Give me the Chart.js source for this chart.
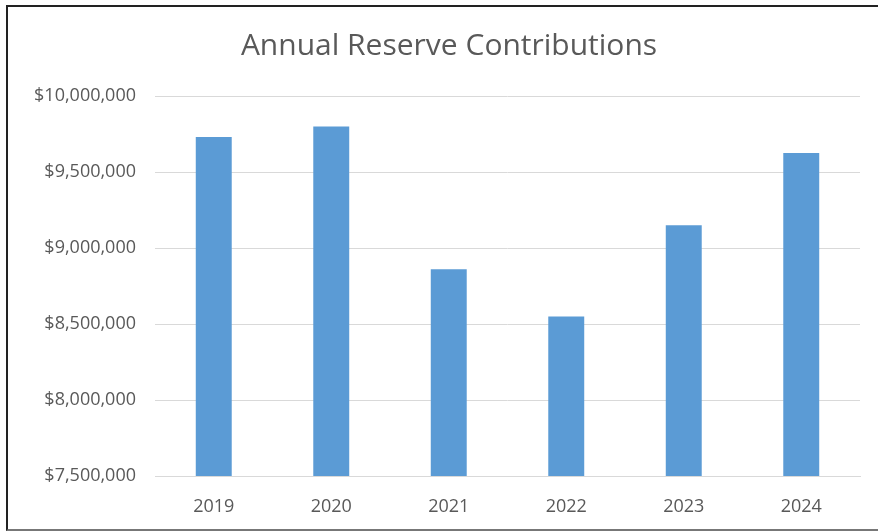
<!DOCTYPE html>
<html>
<head>
<meta charset="utf-8">
<script src="https://cdn.jsdelivr.net/npm/chart.js@4.4.1/dist/chart.umd.min.js"></script>
<style>
    html, body { margin: 0; padding: 0; background: #fff; }
    #wrap { position: relative; width: 878px; height: 531px; overflow: hidden; }
    #frame {
        position: absolute; left: 6px; top: 5px; width: 900px; height: 522px;
        border-top: 2px solid #222; border-left: 2px solid #222; border-bottom: 2px solid #777;
        pointer-events: none;
    }
    canvas { position: absolute; left: 0; top: 0; }
</style>
</head>
<body>
<div id="wrap">
    <canvas id="reserveChart" width="878" height="531"></canvas>
    <div id="frame"></div>
</div>
<script>
// data
const years = ["2019", "2020", "2021", "2022", "2023", "2024"];
const contributions = [9730000, 9800000, 8860000, 8550000, 9150000, 9625000];
const yTicks = [7500000, 8000000, 8500000, 9000000, 9500000, 10000000];

const FONT = "'Open Sans', Roboto, sans-serif";
const TEXT = "#595959";

function formatMoney(v) {
    return "$" + Number(v).toLocaleString("en-US");
}

// the original title sits a bit right of centre, nudge its box
const titleNudge = {
    id: "titleNudge",
    afterLayout(chart) {
        if (chart.titleBlock) {
            chart.titleBlock.left += 38;
        }
    },
};

const ctx = document.getElementById("reserveChart").getContext("2d");
const chart = new Chart(ctx, {
    type: "bar",
    data: {
        labels: years,
        datasets: [{
            label: "Contributions",
            data: contributions,
            backgroundColor: "#5b9bd5",
            borderWidth: 0,
            barPercentage: 0.6,
            categoryPercentage: 0.51,
        }],
    },
    plugins: [titleNudge],
    options: {
        responsive: false,
        animation: false,
        layout: { padding: { left: 0, right: 18, top: 0, bottom: 0 } },
        plugins: {
            legend: { display: false },
            tooltip: { enabled: false },
            title: {
                display: true,
                text: "Annual Reserve Contributions",
                color: TEXT,
                font: { family: FONT, size: 30, weight: "normal" },
                padding: { top: 28, bottom: 32 },
            },
        },
        scales: {
            x: {
                afterFit: (scale) => { scale.height = 55; },
                grid: { display: false },
                border: { display: true, color: "#d9d9d9", width: 1 },
                ticks: {
                    color: TEXT,
                    font: { family: FONT, size: 18 },
                    padding: 12,
                },
            },
            y: {
                min: 7500000,
                max: 10000000,
                afterFit: (scale) => { scale.width = 155; },
                afterBuildTicks: (scale) => {
                    scale.ticks = yTicks.map((v) => ({ value: v }));
                },
                grid: { color: "#d9d9d9", lineWidth: 1, drawTicks: false },
                border: { display: false },
                ticks: {
                    color: TEXT,
                    font: { family: FONT, size: 18 },
                    padding: 19,
                    callback: (v) => formatMoney(v),
                },
            },
        },
    },
});
</script>
</body>
</html>
